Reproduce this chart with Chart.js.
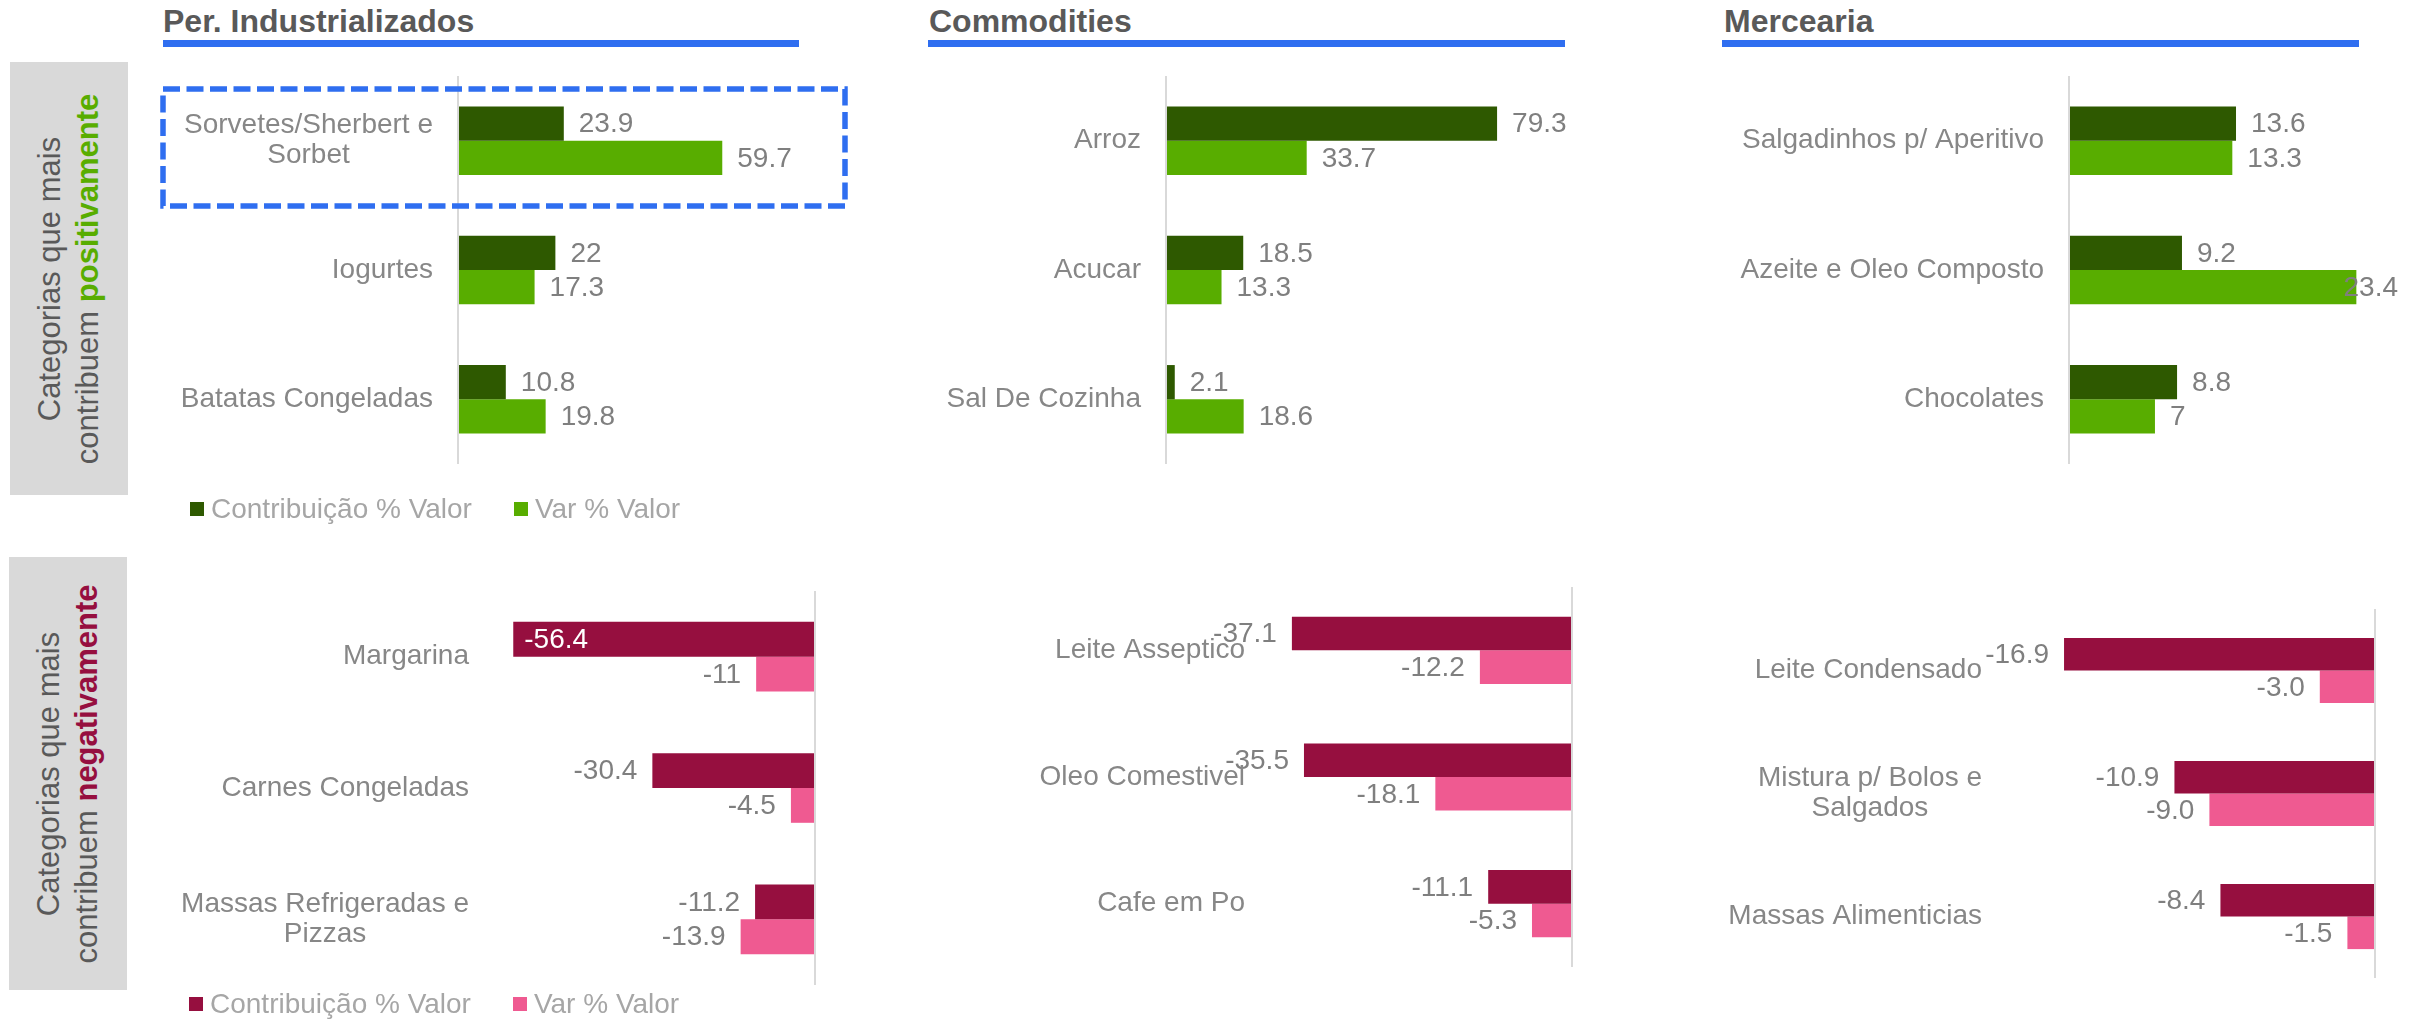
<!DOCTYPE html>
<html>
<head>
<meta charset="utf-8">
<script src="https://cdn.jsdelivr.net/npm/chart.js@4.4.1/dist/chart.umd.min.js"></script>
<style>
  html, body { margin: 0; padding: 0; }
  body {
    width: 2425px; height: 1020px; position: relative; overflow: hidden;
    background: #fff; font-family: "Liberation Sans", Arial, sans-serif;
  }
  .abs { position: absolute; }
  .title { font-weight: bold; font-size: 32px; line-height: 32px; color: #595959; white-space: nowrap; }
  .rule { height: 7px; background: #2F6EF0; }
  .side { background: #D9D9D9; }
  .side-text {
    position: absolute; left: 50%; top: 50%;
    transform: translate(-50%, -50%) rotate(-90deg);
    white-space: nowrap; text-align: center;
    font-size: 31px; line-height: 38px; color: #595959;
  }
  .legend { display: flex; align-items: center; height: 30px; font-size: 28px; color: #A6A6A6; white-space: nowrap; }
  .legend .sw { width: 14px; height: 14px; margin-right: 7px; }
  .legend .item { display: flex; align-items: center; margin-right: 42px; }
  canvas { position: absolute; }
</style>
</head>
<body>

<!-- section headers -->
<div class="abs title" style="left:163px;top:5px">Per. Industrializados</div>
<div class="abs rule"  style="left:163px;top:40px;width:636px"></div>
<div class="abs title" style="left:929px;top:5px">Commodities</div>
<div class="abs rule"  style="left:928px;top:40px;width:637px"></div>
<div class="abs title" style="left:1724px;top:5px">Mercearia</div>
<div class="abs rule"  style="left:1722px;top:40px;width:637px"></div>

<!-- row captions -->
<div class="abs side" style="left:10px;top:62px;width:118px;height:433px">
  <div class="side-text">Categorias que mais<br>contribuem <b style="color:#58AD00">positivamente</b></div>
</div>
<div class="abs side" style="left:9px;top:557px;width:118px;height:433px">
  <div class="side-text">Categorias que mais<br>contribuem <b style="color:#960F3F">negativamente</b></div>
</div>

<canvas id="pos1" width="700" height="420" style="left:150px;top:60px"></canvas>
<canvas id="pos2" width="730" height="420" style="left:870px;top:60px"></canvas>
<canvas id="pos3" width="700" height="420" style="left:1700px;top:60px"></canvas>
<canvas id="neg1" width="700" height="430" style="left:150px;top:570px"></canvas>
<canvas id="neg2" width="730" height="430" style="left:870px;top:570px"></canvas>
<canvas id="neg3" width="700" height="430" style="left:1700px;top:570px"></canvas>

<!-- highlight around the top item -->
<svg class="abs" style="left:0;top:0" width="2425" height="1020">
  <rect x="163" y="89" width="682" height="117" fill="none" stroke="#2F6EF0" stroke-width="5.5" stroke-dasharray="17 6.5"/>
</svg>

<div id="legend-pos" class="abs legend" style="left:190px;top:494px"></div>
<div id="legend-neg" class="abs legend" style="left:189px;top:989px"></div>

<script>
// ── Series / colours ───────────────────────────
const SERIES = ['Contribuição % Valor', 'Var % Valor'];
const POS_COLORS = ['#2E5900', '#58AD00'];
const NEG_COLORS = ['#960F3F', '#EF5A91'];

// ── Positive contributors ──────────────────────
const posCats1    = [['Sorvetes/Sherbert e', 'Sorbet'], 'Iogurtes', 'Batatas Congeladas'];
const posContrib1 = [23.9, 22, 10.8];
const posVar1     = [59.7, 17.3, 19.8];

const posCats2    = ['Arroz', 'Acucar', 'Sal De Cozinha'];
const posContrib2 = [79.3, 18.5, 2.1];
const posVar2     = [33.7, 13.3, 18.6];

const posCats3    = ['Salgadinhos p/ Aperitivo', 'Azeite e Oleo Composto', 'Chocolates'];
const posContrib3 = [13.6, 9.2, 8.8];
const posVar3     = [13.3, 23.4, 7];

// ── Negative contributors ──────────────────────
const negCats1    = ['Margarina', 'Carnes Congeladas', ['Massas Refrigeradas e', 'Pizzas']];
const negContrib1 = [-56.4, -30.4, -11.2];
const negVar1     = [-11, -4.5, -13.9];

const negCats2    = ['Leite Asseptico', 'Oleo Comestivel', 'Cafe em Po'];
const negContrib2 = [-37.1, -35.5, -11.1];
const negVar2     = [-12.2, -18.1, -5.3];

const negCats3    = ['Leite Condensado', ['Mistura p/ Bolos e', 'Salgados'], 'Massas Alimenticias'];
const negContrib3 = [-16.9, -10.9, -8.4];
const negVar3     = [-3.0, -9.0, -1.5];

const FONT = '28px "Liberation Sans", Arial, sans-serif';

// category names, right-aligned as a block, multi-line names centred inside it
const categoryLabels = {
  id: 'categoryLabels',
  afterDraw(chart) {
    const { ctx } = chart;
    const y = chart.scales.y;
    ctx.save();
    ctx.font = FONT;
    ctx.fillStyle = '#878787';
    ctx.textAlign = 'center';
    ctx.textBaseline = 'middle';
    chart.data.labels.forEach((label, i) => {
      const lines = [].concat(label);
      const w  = Math.max(...lines.map(l => ctx.measureText(l).width));
      const cx = y.right - 25 - w / 2;
      const cy = y.getPixelForValue(i);
      lines.forEach((l, j) => ctx.fillText(l, cx, cy + (j - (lines.length - 1) / 2) * 30));
    });
    ctx.restore();
  },
};

// value next to each bar end
const valueLabels = {
  id: 'valueLabels',
  afterDatasetsDraw(chart, args, opts) {
    const ctx = chart.ctx;
    ctx.save();
    ctx.font = FONT;
    ctx.textAlign = 'left';
    ctx.textBaseline = 'middle';
    chart.data.datasets.forEach((ds, di) => {
      chart.getDatasetMeta(di).data.forEach((bar, i) => {
        const v   = ds.data[i];
        const txt = opts.decimals != null ? v.toFixed(opts.decimals) : String(v);
        const tw  = ctx.measureText(txt).width;
        let x, color = '#7F7F7F';
        if (v >= 0) {
          x = Math.min(bar.x + 15, chart.width - 2 - tw);
        } else if (opts.insideBelow != null && v < opts.insideBelow) {
          x = bar.x + 11;
          color = '#FFFFFF';
        } else {
          x = bar.x - 15 - tw;
        }
        ctx.fillStyle = color;
        ctx.fillText(txt, x, bar.y + 1);
      });
    });
    ctx.restore();
  },
};

function renderPanel(id, labels, contrib, varPct, colors, geo) {
  new Chart(document.getElementById(id), {
    type: 'bar',
    data: {
      labels,
      datasets: [
        { label: SERIES[0], data: contrib, backgroundColor: colors[0], categoryPercentage: 0.53, barPercentage: 1 },
        { label: SERIES[1], data: varPct,  backgroundColor: colors[1], categoryPercentage: 0.53, barPercentage: 1 },
      ],
    },
    options: {
      indexAxis: 'y',
      responsive: false,
      animation: false,
      layout: { padding: { top: geo.top, bottom: geo.bottom, left: 0, right: geo.right } },
      plugins: {
        legend: { display: false },
        tooltip: { enabled: false },
        valueLabels: { decimals: geo.decimals, insideBelow: geo.insideBelow },
      },
      scales: {
        x: {
          min: geo.min, max: geo.max,
          ticks: { display: false },
          border: { display: false },
          grid: {
            drawTicks: false, lineWidth: 2,
            color: c => (c.tick && c.tick.value === 0 ? '#D9D9D9' : 'rgba(0,0,0,0)'),
          },
          afterFit: s => { s.height = 0; },
        },
        y: {
          ticks: { display: false },
          border: { display: false },
          grid: { display: false, drawTicks: false },
          afterFit: s => { s.width = geo.axisW; },
        },
      },
    },
    plugins: [valueLabels, categoryLabels],
  });
}

renderPanel('pos1', posCats1, posContrib1, posVar1, POS_COLORS, { axisW: 308, top: 16, bottom: 16, right: 60,  min: 0, max: 75 });
renderPanel('pos2', posCats2, posContrib2, posVar2, POS_COLORS, { axisW: 296, top: 16, bottom: 16, right: 100, min: 0, max: 80 });
renderPanel('pos3', posCats3, posContrib3, posVar3, POS_COLORS, { axisW: 369, top: 16, bottom: 16, right: 24,  min: 0, max: 25 });

renderPanel('neg1', negCats1, negContrib1, negVar1, NEG_COLORS, { axisW: 344, top: 21, bottom: 15, right: 35, min: -60, max: 0, insideBelow: -50 });
renderPanel('neg2', negCats2, negContrib2, negVar2, NEG_COLORS, { axisW: 400, top: 17, bottom: 33, right: 28, min: -40, max: 0 });
renderPanel('neg3', negCats3, negContrib3, negVar3, NEG_COLORS, { axisW: 307, top: 39, bottom: 22, right: 25, min: -20, max: 0, decimals: 1 });

// ── Legends ────────────────────────────────────
function renderLegend(id, colors) {
  document.getElementById(id).innerHTML = SERIES.map((name, i) =>
    `<div class="item"><div class="sw" style="background:${colors[i]}"></div>${name}</div>`).join('');
}
renderLegend('legend-pos', POS_COLORS);
renderLegend('legend-neg', NEG_COLORS);
</script>
</body>
</html>
